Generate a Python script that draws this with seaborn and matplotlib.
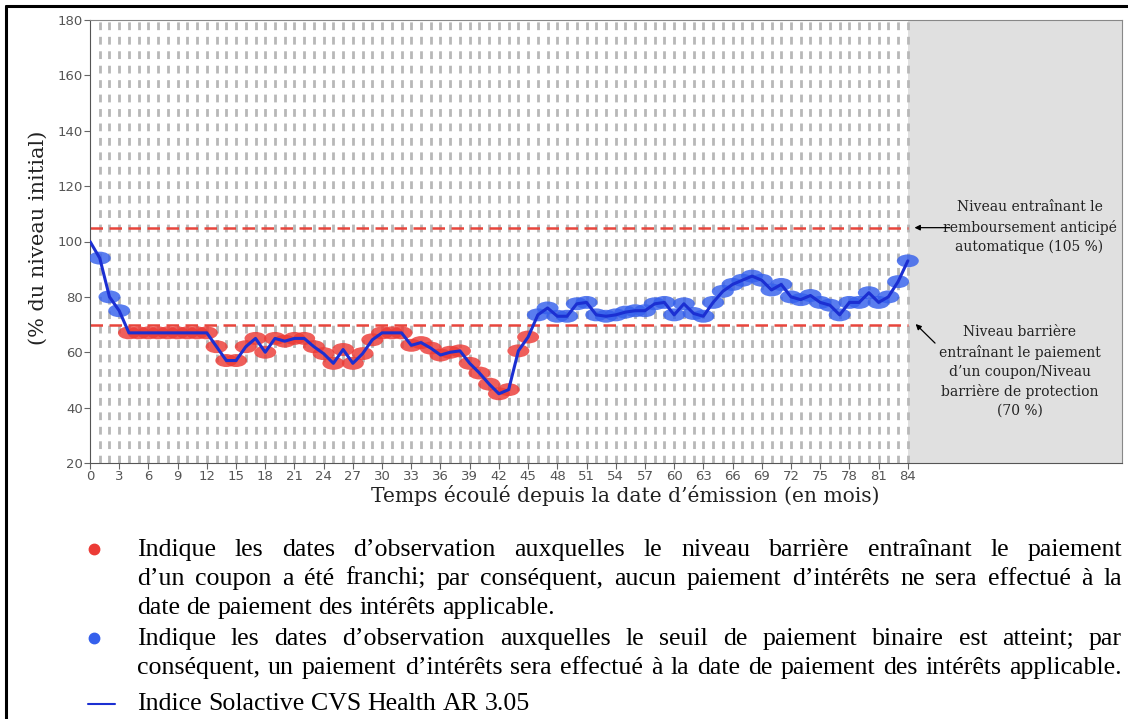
# --------------------------------------------------------------
# Importing Libraries
# --------------------------------------------------------------
import matplotlib
matplotlib.use("Agg")
import numpy as np
import pandas as pd
import matplotlib.pyplot as plt
import seaborn as sns
from matplotlib.path import Path
from matplotlib.lines import Line2D

# --------------------------------------------------------------
# Data
# --------------------------------------------------------------
months = list(range(0, 85))
levels = [
    100, 94, 80, 75, 67, 67, 67, 67, 67, 67, 67, 67, 67,
    62, 57, 57, 62, 65, 60, 65, 64, 65, 65, 62, 59.5, 56, 61, 56,
    59.5, 64.5, 67, 67, 67, 62.5, 63.5, 61.5, 59, 60, 60.5, 56, 52.5,
    48.5, 45, 46.5, 60.5, 65.5, 73.5, 76, 73, 73, 77.5, 78, 73.5, 73,
    73.5, 74.5, 75, 75, 77.5, 78, 73.5, 77.5, 74, 73, 78, 82, 84.5, 86,
    87.5, 86, 82.5, 84.5, 80, 79, 80.5, 78, 77, 73.5, 78, 78, 81.5, 78,
    80, 85.5, 93,
]
x_ticks = list(range(0, 85, 3))
y_ticks = list(range(20, 181, 20))
autocall_level = 105
barrier_level = 70

autocall_note = "Niveau entraînant le\nremboursement anticipé\nautomatique (105 %)"
barrier_note = ("Niveau barrière\nentraînant le paiement\nd’un coupon/Niveau\n"
                "barrière de protection\n(70 %)")
x_label = "Temps écoulé depuis la date d’émission (en mois)"
y_label = "(% du niveau initial)"

# (text, justified) for each line of the key under the chart
legend_lines = [
    ("Indique les dates d’observation auxquelles le niveau barrière entraînant le paiement", True),
    ("d’un coupon a été franchi; par conséquent, aucun paiement d’intérêts ne sera effectué à la", True),
    ("date de paiement des intérêts applicable.", False),
    ("Indique les dates d’observation auxquelles le seuil de paiement binaire est atteint; par", True),
    ("conséquent, un paiement d’intérêts sera effectué à la date de paiement des intérêts applicable.", True),
    ("Indice Solactive CVS Health AR 3.05", False),
]

RED = "#ec3b36"
BLUE = "#3560ec"
LINE = "#1b2fd2"
W, H = 1128, 719

df = pd.DataFrame({"month": months, "level": levels})
obs = df[df["month"] > 0].copy()
obs["status"] = np.where(obs["level"] < barrier_level, "below", "above")

# --------------------------------------------------------------
# Figure
# --------------------------------------------------------------
sns.set_style("white")
plt.rcParams["font.family"] = ["DejaVu Sans"]

fig = plt.figure(figsize=(W / 100, H / 100), dpi=100)
ax = fig.add_axes([90 / W, 1 - 463 / H, 1032 / W, 443 / H])

# shaded area after maturity and vertical dashed grid
ax.axvspan(84, 106, color="#e0e0e0", zorder=0, lw=0)
ax.vlines(months[1:], 20, 180, colors="#b8b8b8", lw=2,
          linestyles=(0, (2.8, 2.4)), zorder=1)
ax.hlines([autocall_level, barrier_level], 0, 84, colors="#e8453c", lw=1.8,
          linestyles=(0, (5, 2.6)), zorder=2)

# ellipse markers
circle = Path.unit_circle()
ellipse = Path(circle.vertices * np.array([1.7, 1.0]), circle.codes)

sns.scatterplot(data=obs, x="month", y="level", hue="status",
                palette={"below": RED, "above": BLUE}, marker=ellipse, s=250,
                edgecolor="none", alpha=0.82, legend=False, ax=ax, zorder=3)
sns.lineplot(data=df, x="month", y="level", color=LINE, lw=2.2, ax=ax, zorder=4)

ax.set_xlim(0, 106)
ax.set_ylim(20, 180)
ax.set_xticks(x_ticks)
ax.set_yticks(y_ticks)
ax.tick_params(bottom=True, left=True, length=4, width=0.8, color="#666",
               labelsize=9.5, labelcolor="#555", pad=1)
for side in ["left", "bottom"]:
    ax.spines[side].set_color("#555")
for side in ["top", "right"]:
    ax.spines[side].set_color("#888")

ax.set_xlabel(x_label, family="DejaVu Serif", fontsize=14.6, color="#222")
ax.xaxis.set_label_coords((625 - 90) / 1032, (463 - 495) / 443)
ax.xaxis.label.set_va("center")
ax.set_ylabel(y_label, family="DejaVu Serif", fontsize=15, color="#222")
ax.yaxis.set_label_coords((38 - 90) / 1032, (463 - 238) / 443)
ax.yaxis.label.set_va("center")

# notes on the right
ax.text(96.5, 105.2, autocall_note, ha="center", va="center",
        family="DejaVu Serif", fontsize=10, linespacing=1.45, color="#222")
ax.annotate("", xy=(84.4, autocall_level), xytext=(88.6, autocall_level),
            arrowprops=dict(arrowstyle="-|>", color="black", lw=0.9,
                            mutation_scale=8))
ax.text(95.5, 53.0, barrier_note, ha="center", va="center",
        family="DejaVu Serif", fontsize=10, linespacing=1.45, color="#222")
ax.annotate("", xy=(84.6, 70.9), xytext=(87.0, 62.6),
            arrowprops=dict(arrowstyle="-|>", color="black", lw=0.9,
                            mutation_scale=8))

# --------------------------------------------------------------
# Key text below the chart (justified like the source document)
# --------------------------------------------------------------
fs = 18.6
x0, x1 = 137, 1122
baselines = [556, 585, 614, 645, 674, 710]
renderer = fig.canvas.get_renderer()
for (line, justify), y in zip(legend_lines, baselines):
    words = line.split(" ")
    texts = [fig.text(0, 1 - y / H, w, fontsize=fs, family="Liberation Serif",
                      va="baseline", color="black") for w in words]
    widths = [t.get_window_extent(renderer).width for t in texts]
    gap = (x1 - x0 - sum(widths)) / (len(words) - 1) if justify else fs * 0.25 * 100 / 72
    x = x0
    for t, wd in zip(texts, widths):
        t.set_x(x / W)
        x += wd + gap

fig.add_artist(Line2D([94 / W], [1 - 549 / H], marker="o", ms=7.5, color=RED, lw=0))
fig.add_artist(Line2D([94 / W], [1 - 638 / H], marker="o", ms=7.5, color=BLUE, lw=0))
fig.add_artist(Line2D([88 / W, 115 / W], [1 - 704 / H] * 2, color=LINE, lw=1.5))

# frame lines of the original document
fig.add_artist(Line2D([6 / W, 6 / W], [0, 1 - 6 / H], color="black", lw=2.2))
fig.add_artist(Line2D([6 / W, 1], [1 - 6 / H] * 2, color="black", lw=2.2))

plt.savefig("out.png", dpi=100)
